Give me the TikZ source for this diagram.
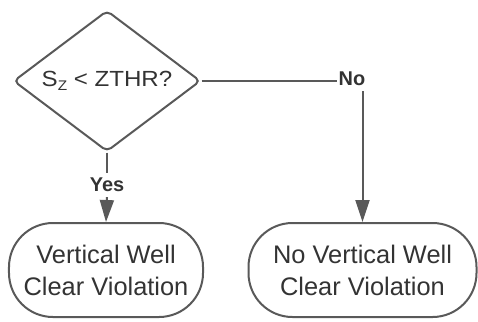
\documentclass[tikz,border=0pt]{standalone}
\usepackage{fontspec}
\setmainfont{Liberation Sans}
\newfontfamily\widesans[FakeStretch=1.1]{Liberation Sans}
\usetikzlibrary{shapes.geometric,arrows.meta}
\definecolor{edge}{HTML}{595959}
\definecolor{ink}{HTML}{333333}

\begin{document}
\begin{tikzpicture}[x=1bp,y=-1bp,
  flowline/.style={draw=edge, line width=2bp},
  arrowline/.style={flowline, -{Triangle[length=22bp,width=14bp]}},
  decision/.style={diamond, aspect=1.33, draw=edge, line width=2bp, rounded corners=5bp,
    minimum width=187bp, minimum height=141bp, inner sep=0pt, text=ink,
    font=\widesans\fontsize{22}{24}\selectfont},
  terminal/.style={draw=edge, line width=2bp, rounded corners=44bp, align=center,
    text=ink, font=\fontsize{25.5}{32}\selectfont, inner sep=0pt, minimum height=94bp},
  branchlabel/.style={text=ink, font=\bfseries\fontsize{20}{22}\selectfont,
    inner xsep=2bp, inner ysep=5bp}]

\useasboundingbox (0,0) rectangle (478,321);

% decision and outcomes
\node[decision] (d) at (107,81) {S\raisebox{-0.2em}{\fontsize{14}{14}\selectfont Z} < ZTHR?};
\node[terminal, minimum width=194bp] (v) at (106,270) {Vertical Well\\Clear Violation};
\node[terminal, minimum width=228bp] (nv) at (362.5,270) {No Vertical Well\\Clear Violation};

% branch labels
\node[branchlabel] (yes) at (107,185) {Yes};
\node[branchlabel] (no) at (352,79) {No};

% connectors
\draw[flowline] (d.south) -- (yes.north);
\draw[arrowline] (yes.south) -- (v.north);
\draw[flowline] (d.east) -- (d.east -| no.west);
\draw[arrowline] (no.south -| nv.north) -- (nv.north);
\end{tikzpicture}
\end{document}
